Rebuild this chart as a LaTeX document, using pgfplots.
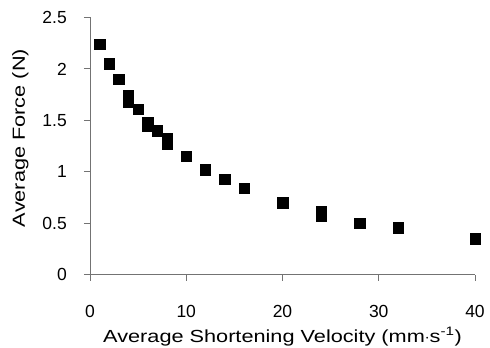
\documentclass[border=0pt]{standalone}
\usepackage{pgfplots}
\pgfplotsset{compat=1.18}
\usepackage{fontspec}
\setmainfont{Liberation Sans}
\newfontfamily\labelfont{Liberation Sans}[FakeStretch=1.24]
\begin{document}
\begin{tikzpicture}
\begin{axis}[
  scale only axis,
  width=385pt, height=257pt,
  xmin=0, xmax=40, ymin=0, ymax=2.5,
  xtick={0,10,20,30,40},
  ytick={0,0.5,1,1.5,2,2.5},
  axis lines=left,
  axis line style={draw=black!55, line width=0.8pt, -},
  tick style={draw=black!55, line width=0.8pt},
  tick align=outside,
  major tick length=6pt,
  /pgf/number format/assume math mode=true,
  yticklabel style={/pgf/number format/fixed, /pgf/number format/precision=1},
  every tick label/.append style={font=\fontsize{17.5}{20}\selectfont, inner sep=0pt},
  yticklabel style={anchor=east, xshift=-17pt},
  xticklabel style={anchor=base, yshift=-37pt},
  xlabel={\labelfont Average Shortening Velocity (mm$\cdot$s\textsuperscript{-1})},
  ylabel={\labelfont Average Force (N)},
  label style={font=\fontsize{17.5}{20}\selectfont, inner sep=0pt},
  xlabel style={at={(axis description cs:0.5,0)}, anchor=base, yshift=-67.5pt},
  ylabel style={at={(axis description cs:0,0.5)}, anchor=base, xshift=8pt, yshift=65pt},
  clip=false,
]
\addplot[only marks, mark=square*, mark size=5.2pt, black] coordinates {
(1,2.24) (2,2.05) (3,1.90) (4,1.74) (4,1.68) (5,1.61) (6,1.48) (6,1.44)
(7,1.40) (8,1.32) (8,1.27) (10,1.15) (12,1.02) (14,0.925) (16,0.84)
(20,0.70) (24,0.61) (24,0.57) (28,0.50) (32,0.455) (40,0.35)
};
\end{axis}
\pgfresetboundingbox
\path (current axis.south west) ++(-90pt,-73.5pt) rectangle ++(490pt,348pt);
\end{tikzpicture}
\end{document}
